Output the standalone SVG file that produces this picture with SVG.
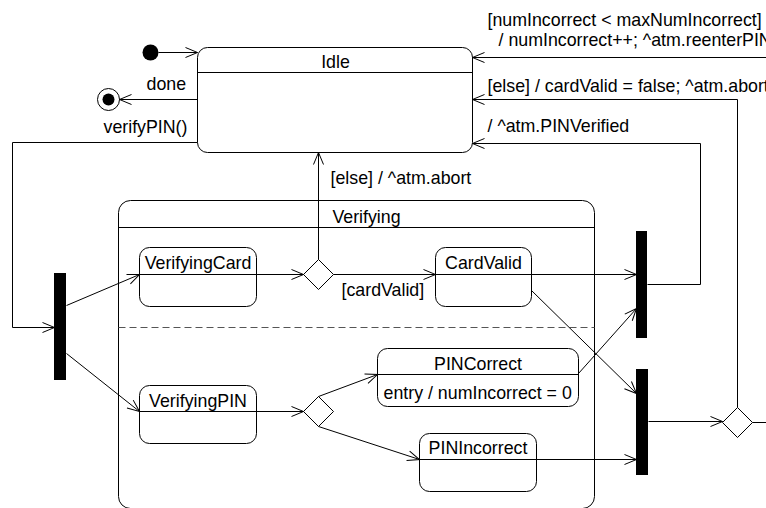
<svg xmlns="http://www.w3.org/2000/svg" width="766" height="508" viewBox="0 0 766 508">
<style>
.st{fill:#fff;stroke:#000;stroke-width:1}
.ln{fill:none;stroke:#000;stroke-width:1}
.bar{fill:#000;stroke:none}
.dm{fill:#fff;stroke:#000;stroke-width:1}
text{font-family:"Liberation Sans",Arial,sans-serif;font-size:17.8px;fill:#000}
.c{text-anchor:middle}
.dash{fill:none;stroke:#555;stroke-width:1;stroke-dasharray:7,4}
</style>
<defs>
<marker id="ar" markerUnits="userSpaceOnUse" markerWidth="14" markerHeight="12" refX="13" refY="6" orient="auto">
<path d="M1,1 L13,6 L1,11" fill="none" stroke="#000" stroke-width="1"/>
</marker>
</defs>
<rect width="766" height="508" fill="#fff"/>
<g transform="translate(0.5,0.5)">
<g id="Verifying">
<rect class="st" x="118" y="200" width="476" height="308" rx="12"/>
<line class="ln" x1="118" y1="227" x2="594" y2="227"/>
<text class="c" x="366" y="222">Verifying</text>
<line class="dash" x1="118" y1="327" x2="594" y2="327"/>
</g>
<g id="Idle">
<rect class="st" x="197" y="47" width="275" height="105" rx="10"/>
<line class="ln" x1="197" y1="72" x2="472" y2="72"/>
<text class="c" x="335" y="67">Idle</text>
</g>
<g id="initial"><circle cx="150" cy="52" r="8" fill="#000"/></g>
<g id="final"><circle cx="108" cy="99" r="11" fill="#fff" stroke="#000"/><circle cx="108" cy="99" r="6" fill="#000"/></g>
<g id="VerifyingCard">
<rect class="st" x="139" y="247" width="117" height="59" rx="10"/>
<line class="ln" x1="139" y1="274" x2="256" y2="274"/>
<text class="c" x="197.5" y="268">VerifyingCard</text>
</g>
<g id="CardValid">
<rect class="st" x="435" y="247" width="96" height="59" rx="10"/>
<line class="ln" x1="435" y1="274" x2="531" y2="274"/>
<text class="c" x="483" y="268">CardValid</text>
</g>
<g id="VerifyingPIN">
<rect class="st" x="139" y="385" width="117" height="58" rx="10"/>
<line class="ln" x1="139" y1="411" x2="256" y2="411"/>
<text class="c" x="197.5" y="406">VerifyingPIN</text>
</g>
<g id="PINCorrect">
<rect class="st" x="377" y="348" width="201" height="58" rx="10"/>
<line class="ln" x1="377" y1="374" x2="578" y2="374"/>
<text class="c" x="477.5" y="369">PINCorrect</text>
<text x="383" y="398">entry / numIncorrect = 0</text>
</g>
<g id="PINIncorrect">
<rect class="st" x="419" y="433" width="117" height="58" rx="10"/>
<line class="ln" x1="419" y1="459" x2="536" y2="459"/>
<text class="c" x="477.5" y="453">PINIncorrect</text>
</g>
<g id="fork"><rect class="bar" x="53.5" y="272.5" width="12" height="107"/></g>
<g id="join1"><rect class="bar" x="635.5" y="230.5" width="11" height="107"/></g>
<g id="join2"><rect class="bar" x="635.5" y="368.5" width="12" height="106"/></g>
<g id="choice1"><polygon class="dm" points="303,274 318,259 333,274 318,289"/></g>
<g id="choice2"><polygon class="dm" points="303,411 318,396 333,411 318,426"/></g>
<g id="choice3"><polygon class="dm" points="722,422 737,407 752,422 737,437"/></g>
<g id="connectors">
<line class="ln" x1="158" y1="52" x2="197" y2="52" marker-end="url(#ar)"/>
<line class="ln" x1="197" y1="99" x2="119" y2="99" marker-end="url(#ar)"/>
<polyline class="ln" points="197,142 12,142 12,327 54,327" marker-end="url(#ar)"/>
<line class="ln" x1="66" y1="305" x2="139" y2="274" marker-end="url(#ar)"/>
<line class="ln" x1="66" y1="353" x2="139" y2="411" marker-end="url(#ar)"/>
<line class="ln" x1="256" y1="274" x2="303" y2="274" marker-end="url(#ar)"/>
<line class="ln" x1="318" y1="259" x2="318" y2="152" marker-end="url(#ar)"/>
<line class="ln" x1="333" y1="274" x2="435" y2="274" marker-end="url(#ar)"/>
<line class="ln" x1="531" y1="274" x2="636" y2="274" marker-end="url(#ar)"/>
<line class="ln" x1="531" y1="290" x2="636" y2="393" marker-end="url(#ar)"/>
<line class="ln" x1="256" y1="411" x2="303" y2="411" marker-end="url(#ar)"/>
<line class="ln" x1="318" y1="396" x2="377" y2="374" marker-end="url(#ar)"/>
<line class="ln" x1="318" y1="426" x2="419" y2="459" marker-end="url(#ar)"/>
<line class="ln" x1="578" y1="373" x2="636" y2="308" marker-end="url(#ar)"/>
<line class="ln" x1="536" y1="459" x2="636" y2="459" marker-end="url(#ar)"/>
<polyline class="ln" points="647,284 700,284 700,143 472,143" marker-end="url(#ar)"/>
<line class="ln" x1="648" y1="421" x2="722" y2="421" marker-end="url(#ar)"/>
<polyline class="ln" points="737,407 737,99 472,99" marker-end="url(#ar)"/>
<line class="ln" x1="752" y1="422" x2="767" y2="422"/>
<line class="ln" x1="767" y1="57" x2="472" y2="57" marker-end="url(#ar)"/>
<text x="146" y="89">done</text>
<text x="103" y="132">verifyPIN()</text>
<text x="330" y="183">[else] / ^atm.abort</text>
<text x="341" y="295">[cardValid]</text>
<text x="487" y="25">[numIncorrect &lt; maxNumIncorrect]</text>
<text x="498" y="45">/ numIncorrect++; ^atm.reenterPIN</text>
<text x="487" y="91">[else] / cardValid = false; ^atm.abort</text>
<text x="487" y="131">/ ^atm.PINVerified</text>
</g>
</g>
</svg>
